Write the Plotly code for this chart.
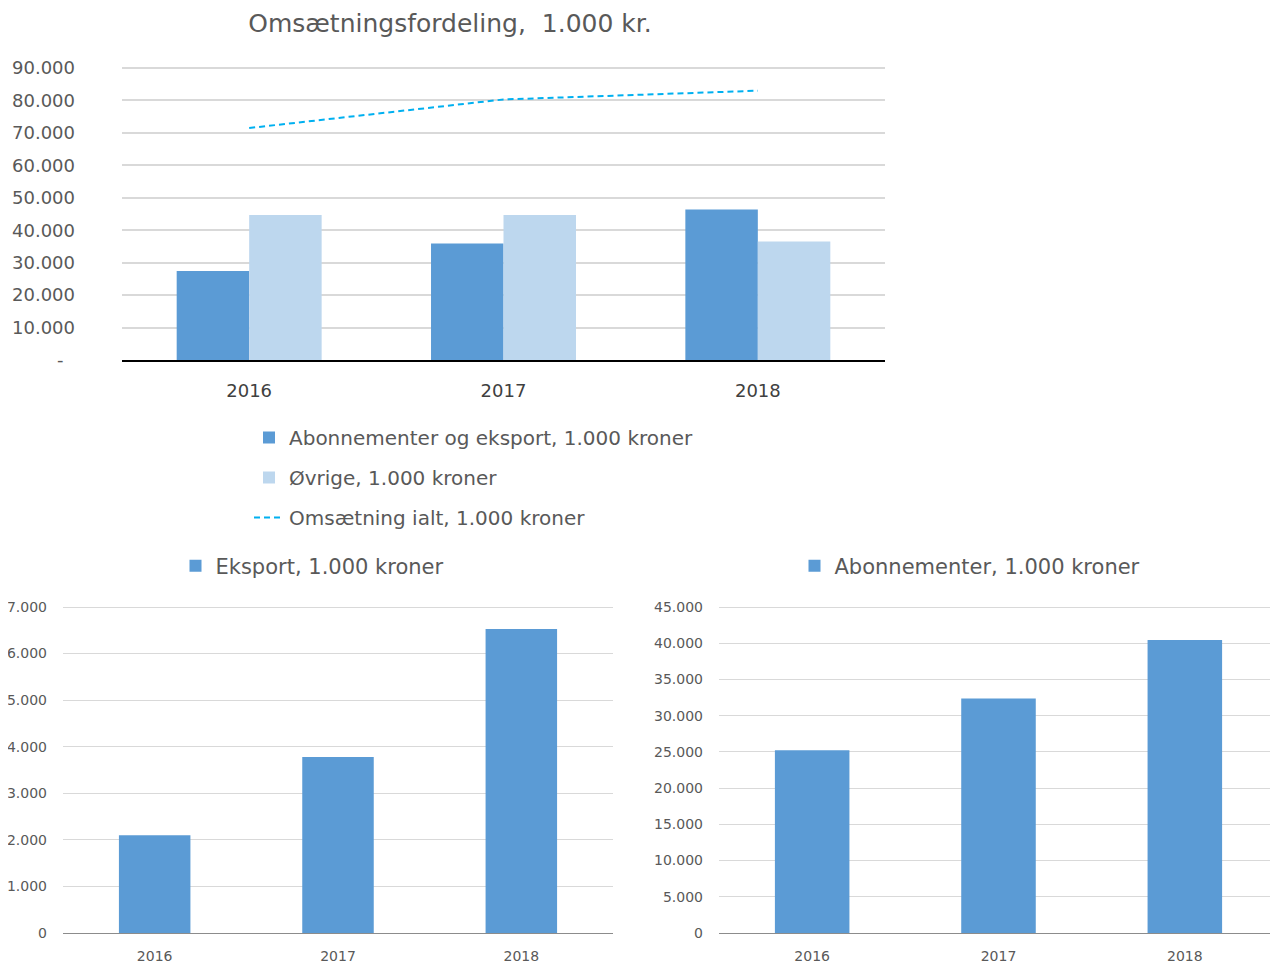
import plotly.graph_objects as go

years = ["2016", "2017", "2018"]
abon_eksport = [27400, 35900, 46400]
ovrige = [44700, 44700, 36500]
omsaetning_ialt = [71500, 80300, 83000]
eksport = [2100, 3780, 6530]
abonnementer = [25240, 32380, 40440]

top_tickvals = [0, 10000, 20000, 30000, 40000, 50000, 60000, 70000, 80000, 90000]
top_ticktext = ["-\u00a0\u00a0", "10.000", "20.000", "30.000", "40.000", "50.000", "60.000", "70.000", "80.000", "90.000"]

DARK = "#5B9BD5"
LIGHT = "#BDD7EE"
LINE = "#00B0F0"
TXT = "#595959"
GRID = "#D9D9D9"
FONT = "DejaVu Sans"

# page body has an 8px margin: work in reference pixels and shift by 8
OFF = 8
W, H = 1278 - OFF, 964 - OFF

def px_x(a, b):
    return [(a - OFF) / W, min(1.0, (b - OFF) / W)]

def px_y(top, bottom):
    return [1 - (bottom - OFF) / H, 1 - (top - OFF) / H]

def top_for(range_max, tick_top_val, tick_top_px, zero_px):
    return zero_px - (zero_px - tick_top_px) * range_max / tick_top_val

R1, R2, R3 = 90900, 7070, 45450
t1 = top_for(R1, 90000, 68, 360)
t2 = top_for(R2, 7000, 607, 933)
t3 = top_for(R3, 45000, 607, 933)

fig = go.Figure()

fig.add_trace(go.Bar(x=years, y=abon_eksport, name="Abonnementer og eksport, 1.000 kroner",
                     marker=dict(color=DARK, line=dict(width=0)), xaxis="x", yaxis="y",
                     legend="legend", legendgroup="a"))
fig.add_trace(go.Bar(x=years, y=ovrige, name="Øvrige, 1.000 kroner",
                     marker=dict(color=LIGHT, line=dict(width=0)), xaxis="x", yaxis="y",
                     legend="legend", legendgroup="b"))
fig.add_trace(go.Scatter(x=years, y=omsaetning_ialt, name="Omsætning ialt, 1.000 kroner",
                         mode="lines", line=dict(color=LINE, width=2, dash="6px,4px"),
                         xaxis="x", yaxis="y", legend="legend", legendgroup="c"))

fig.add_trace(go.Bar(x=years, y=eksport, name="Eksport, 1.000 kroner", width=0.39,
                     marker=dict(color=DARK, line=dict(width=0)), xaxis="x2", yaxis="y2",
                     legend="legend2", showlegend=True))
fig.add_trace(go.Bar(x=years, y=abonnementer, name="Abonnementer, 1.000 kroner", width=0.40,
                     marker=dict(color=DARK, line=dict(width=0)), xaxis="x3", yaxis="y3",
                     legend="legend3", showlegend=True))

fig.update_layout(
    width=W, height=H,
    margin=dict(l=0, r=0, t=0, b=0, autoexpand=False),
    paper_bgcolor="white", plot_bgcolor="white",
    separators=",.",
    barmode="group",
    bargap=0.43, bargroupgap=0,
    font=dict(family=FONT, color=TXT),
    title=dict(text="Omsætningsfordeling,  1.000 kr.", x=(450 - OFF) / W, xanchor="center",
               y=1 - (23 - OFF) / H, yanchor="middle", font=dict(size=25, color=TXT, family=FONT)),
    xaxis=dict(domain=px_x(122, 885), anchor="y", type="category",
               showgrid=False, showline=True, linecolor="black", linewidth=2,
               tickfont=dict(size=18, color="#404040"), ticklabelstandoff=13, ticks=""),
    yaxis=dict(domain=px_y(t1, 360), anchor="x", range=[0, R1],
               tickvals=top_tickvals, ticktext=top_ticktext,
               showgrid=True, gridcolor=GRID, gridwidth=2, zeroline=False,
               showline=False, tickfont=dict(size=18, color=TXT), ticklabelstandoff=46),
    xaxis2=dict(domain=px_x(63, 613), anchor="y2", type="category",
                showgrid=False, showline=True, linecolor="#8C8C8C", linewidth=1,
                tickfont=dict(size=14, color=TXT), ticklabelstandoff=10, ticks=""),
    yaxis2=dict(domain=px_y(t2, 933), anchor="x2", range=[0, R2], dtick=1000,
                tickformat=",d", showgrid=True, gridcolor=GRID, gridwidth=1, zeroline=False,
                tickfont=dict(size=14, color=TXT), ticklabelstandoff=15),
    xaxis3=dict(domain=px_x(719, 1283), anchor="y3", type="category",
                showgrid=False, showline=True, linecolor="#8C8C8C", linewidth=1,
                tickfont=dict(size=14, color=TXT), ticklabelstandoff=10, ticks=""),
    yaxis3=dict(domain=px_y(t3, 933), anchor="x3", range=[0, R3], dtick=5000,
                tickformat=",d", showgrid=True, gridcolor=GRID, gridwidth=1, zeroline=False,
                tickfont=dict(size=14, color=TXT), ticklabelstandoff=15),
    legend=dict(x=241 / W, xanchor="left", y=1 - 410 / H, yanchor="top",
                orientation="v", tracegroupgap=11, traceorder="grouped",
                font=dict(size=20, color=TXT, family=FONT), bgcolor="rgba(0,0,0,0)"),
    legend2=dict(x=304 / W, xanchor="center", y=1 - 558 / H, yanchor="middle",
                 orientation="h", font=dict(size=21, color=TXT, family=FONT),
                 bgcolor="rgba(0,0,0,0)", itemwidth=30),
    legend3=dict(x=962 / W, xanchor="center", y=1 - 558 / H, yanchor="middle",
                 orientation="h", font=dict(size=21, color=TXT, family=FONT),
                 bgcolor="rgba(0,0,0,0)", itemwidth=30),
)

fig.write_html("out.html")
